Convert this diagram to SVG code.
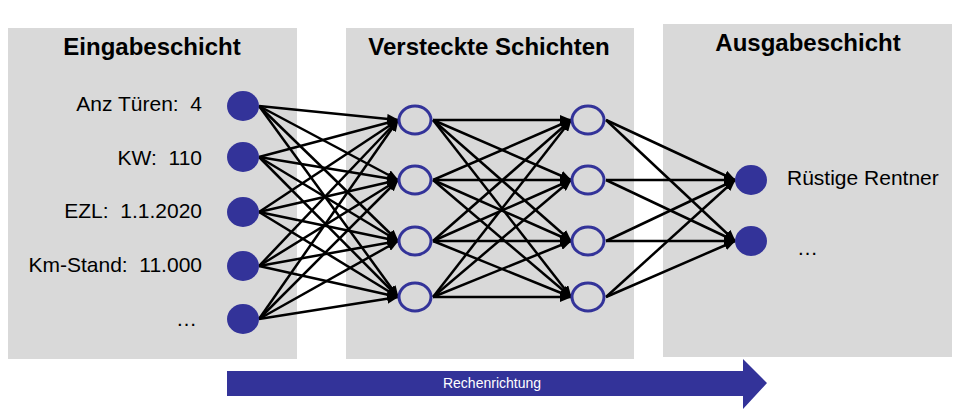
<svg xmlns="http://www.w3.org/2000/svg" width="960" height="412" viewBox="0 0 960 412">
<defs>
<style>
.panel{fill:#d9d9d9}
.title{font-family:"Liberation Sans",Arial,sans-serif;font-weight:bold;font-size:24px;fill:#000;text-anchor:middle}
.lbl{font-family:"Liberation Sans",Arial,sans-serif;font-size:21px;fill:#000;white-space:pre}
.filled{fill:#333399}
.hollow{fill:none;stroke:#333399;stroke-width:3}
.c line{stroke:#000;stroke-width:2.5;marker-end:url(#ah)}
</style>
<marker id="ah" markerUnits="userSpaceOnUse" markerWidth="12" markerHeight="10" refX="11" refY="5" orient="auto">
<path d="M0,0 L12,5 L0,10 Z" fill="#000"/>
</marker>
</defs>
<rect width="960" height="412" fill="#fff"/>
<g id="panel-input"><rect class="panel" x="8" y="28" width="289" height="331"/><text class="title" x="152" y="55">Eingabeschicht</text></g>
<g id="panel-hidden"><rect class="panel" x="346" y="28" width="288" height="331"/><text class="title" x="489" y="55">Versteckte Schichten</text></g>
<g id="panel-output"><rect class="panel" x="663" y="24" width="289" height="333"/><text class="title" x="808" y="51">Ausgabeschicht</text></g>
<g class="c" id="connectors">
<line x1="259" y1="106" x2="398" y2="120"/><line x1="259" y1="106" x2="398" y2="180"/><line x1="259" y1="106" x2="398" y2="241"/><line x1="259" y1="106" x2="398" y2="297"/>
<line x1="259" y1="157" x2="398" y2="120"/><line x1="259" y1="157" x2="398" y2="180"/><line x1="259" y1="157" x2="398" y2="241"/><line x1="259" y1="157" x2="398" y2="297"/>
<line x1="259" y1="212" x2="398" y2="120"/><line x1="259" y1="212" x2="398" y2="180"/><line x1="259" y1="212" x2="398" y2="241"/><line x1="259" y1="212" x2="398" y2="297"/>
<line x1="259" y1="266" x2="398" y2="120"/><line x1="259" y1="266" x2="398" y2="180"/><line x1="259" y1="266" x2="398" y2="241"/><line x1="259" y1="266" x2="398" y2="297"/>
<line x1="259" y1="319" x2="398" y2="120"/><line x1="259" y1="319" x2="398" y2="180"/><line x1="259" y1="319" x2="398" y2="241"/><line x1="259" y1="319" x2="398" y2="297"/>
<line x1="433" y1="120" x2="571" y2="120"/><line x1="433" y1="120" x2="571" y2="180"/><line x1="433" y1="120" x2="571" y2="241"/><line x1="433" y1="120" x2="571" y2="297"/>
<line x1="433" y1="180" x2="571" y2="120"/><line x1="433" y1="180" x2="571" y2="180"/><line x1="433" y1="180" x2="571" y2="241"/><line x1="433" y1="180" x2="571" y2="297"/>
<line x1="433" y1="241" x2="571" y2="120"/><line x1="433" y1="241" x2="571" y2="180"/><line x1="433" y1="241" x2="571" y2="241"/><line x1="433" y1="241" x2="571" y2="297"/>
<line x1="433" y1="297" x2="571" y2="120"/><line x1="433" y1="297" x2="571" y2="180"/><line x1="433" y1="297" x2="571" y2="241"/><line x1="433" y1="297" x2="571" y2="297"/>
<line x1="606" y1="120" x2="735" y2="180"/><line x1="606" y1="120" x2="735" y2="241"/>
<line x1="606" y1="180" x2="735" y2="180"/><line x1="606" y1="180" x2="735" y2="241"/>
<line x1="606" y1="241" x2="735" y2="180"/><line x1="606" y1="241" x2="735" y2="241"/>
<line x1="606" y1="297" x2="735" y2="180"/><line x1="606" y1="297" x2="735" y2="241"/>
</g>
<g id="in1"><ellipse class="filled" cx="243" cy="106" rx="16" ry="15"/><text class="lbl" x="202" y="111" text-anchor="end">Anz Türen:  4</text></g>
<g id="in2"><ellipse class="filled" cx="243" cy="157" rx="16" ry="15"/><text class="lbl" x="202" y="165" text-anchor="end">KW:  110</text></g>
<g id="in3"><ellipse class="filled" cx="243" cy="212" rx="16" ry="15"/><text class="lbl" x="202" y="218" text-anchor="end">EZL:  1.1.2020</text></g>
<g id="in4"><ellipse class="filled" cx="243" cy="266" rx="16" ry="15"/><text class="lbl" x="202" y="272" text-anchor="end">Km-Stand:  11.000</text></g>
<g id="in5"><ellipse class="filled" cx="243" cy="319" rx="16" ry="15"/><text class="lbl" x="197" y="326" text-anchor="end">…</text></g>
<g id="h1a"><ellipse class="hollow" cx="415" cy="120" rx="16" ry="14"/></g>
<g id="h1b"><ellipse class="hollow" cx="415" cy="180" rx="16" ry="14"/></g>
<g id="h1c"><ellipse class="hollow" cx="415" cy="241" rx="16" ry="14"/></g>
<g id="h1d"><ellipse class="hollow" cx="415" cy="297" rx="16" ry="14"/></g>
<g id="h2a"><ellipse class="hollow" cx="588" cy="120" rx="16" ry="14"/></g>
<g id="h2b"><ellipse class="hollow" cx="588" cy="180" rx="16" ry="14"/></g>
<g id="h2c"><ellipse class="hollow" cx="588" cy="241" rx="16" ry="14"/></g>
<g id="h2d"><ellipse class="hollow" cx="588" cy="297" rx="16" ry="14"/></g>
<g id="out1"><ellipse class="filled" cx="751" cy="180" rx="16" ry="15"/><text class="lbl" x="787" y="185">Rüstige Rentner</text></g>
<g id="out2"><ellipse class="filled" cx="751" cy="241" rx="16" ry="15"/><text class="lbl" x="797" y="255">…</text></g>
<g id="direction">
<path d="M227,371 L743,371 L743,359 L767,383 L743,409 L743,396 L227,396 Z" fill="#333399"/>
<text x="492" y="388" font-family="'Liberation Sans',Arial,sans-serif" font-size="14" fill="#fff" text-anchor="middle">Rechenrichtung</text>
</g>
</svg>
